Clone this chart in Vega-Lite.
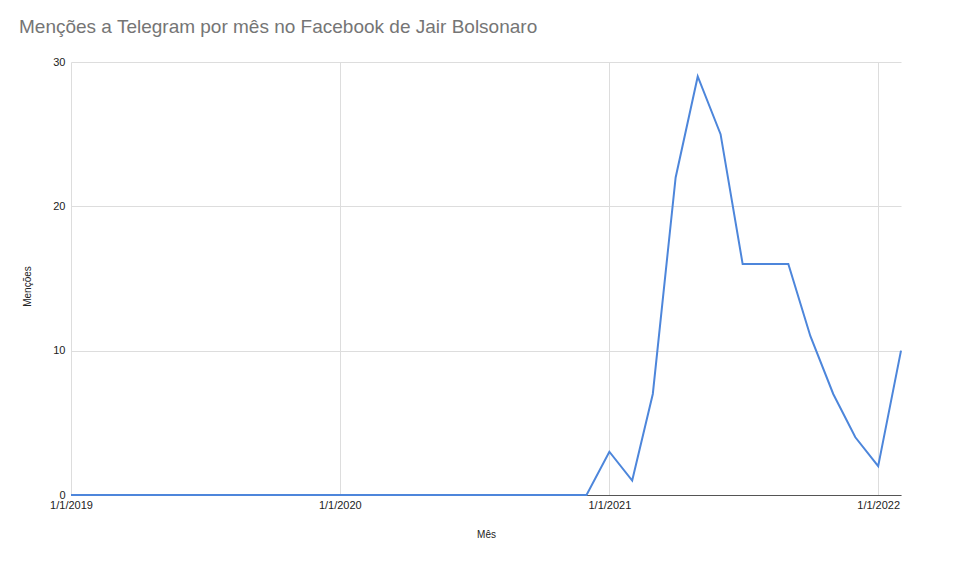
{
  "$schema": "https://vega.github.io/schema/vega-lite/v6.json",
  "width": 830,
  "height": 433,
  "autosize": "none",
  "padding": {"left": 71, "top": 62, "right": 59, "bottom": 68},
  "background": "white",
  "title": {
    "text": "Menções a Telegram por mês no Facebook de Jair Bolsonaro",
    "anchor": "start",
    "frame": "group",
    "dx": -52,
    "offset": 19,
    "font": "Liberation Sans",
    "fontSize": 19,
    "fontWeight": "normal",
    "color": "#757575"
  },
  "config": {
    "view": {"stroke": null},
    "axis": {"labelFont": "Liberation Sans", "titleFont": "Liberation Sans"}
  },
  "data": {
    "values": [
      {"mes": "2019/01/01", "mencoes": 0},
      {"mes": "2019/02/01", "mencoes": 0},
      {"mes": "2019/03/01", "mencoes": 0},
      {"mes": "2019/04/01", "mencoes": 0},
      {"mes": "2019/05/01", "mencoes": 0},
      {"mes": "2019/06/01", "mencoes": 0},
      {"mes": "2019/07/01", "mencoes": 0},
      {"mes": "2019/08/01", "mencoes": 0},
      {"mes": "2019/09/01", "mencoes": 0},
      {"mes": "2019/10/01", "mencoes": 0},
      {"mes": "2019/11/01", "mencoes": 0},
      {"mes": "2019/12/01", "mencoes": 0},
      {"mes": "2020/01/01", "mencoes": 0},
      {"mes": "2020/02/01", "mencoes": 0},
      {"mes": "2020/03/01", "mencoes": 0},
      {"mes": "2020/04/01", "mencoes": 0},
      {"mes": "2020/05/01", "mencoes": 0},
      {"mes": "2020/06/01", "mencoes": 0},
      {"mes": "2020/07/01", "mencoes": 0},
      {"mes": "2020/08/01", "mencoes": 0},
      {"mes": "2020/09/01", "mencoes": 0},
      {"mes": "2020/10/01", "mencoes": 0},
      {"mes": "2020/11/01", "mencoes": 0},
      {"mes": "2020/12/01", "mencoes": 0},
      {"mes": "2021/01/01", "mencoes": 3},
      {"mes": "2021/02/01", "mencoes": 1},
      {"mes": "2021/03/01", "mencoes": 7},
      {"mes": "2021/04/01", "mencoes": 22},
      {"mes": "2021/05/01", "mencoes": 29},
      {"mes": "2021/06/01", "mencoes": 25},
      {"mes": "2021/07/01", "mencoes": 16},
      {"mes": "2021/08/01", "mencoes": 16},
      {"mes": "2021/09/01", "mencoes": 16},
      {"mes": "2021/10/01", "mencoes": 11},
      {"mes": "2021/11/01", "mencoes": 7},
      {"mes": "2021/12/01", "mencoes": 4},
      {"mes": "2022/01/01", "mencoes": 2},
      {"mes": "2022/02/01", "mencoes": 10}
    ]
  },
  "mark": {"type": "line", "color": "#4d86db", "strokeWidth": 2, "clip": false},
  "encoding": {
    "x": {
      "field": "mes",
      "type": "temporal",
      "title": "Mês",
      "scale": {"domain": [{"year": 2019, "month": 1, "date": 1}, {"year": 2022, "month": 2, "date": 1}]},
      "axis": {
        "values": [
          {"year": 2019, "month": 1, "date": 1},
          {"year": 2020, "month": 1, "date": 1},
          {"year": 2021, "month": 1, "date": 1},
          {"year": 2022, "month": 1, "date": 1}
        ],
        "format": "%-m/%-d/%Y",
        "labelFlush": false,
        "labelOverlap": false,
        "labelFontSize": 11,
        "labelColor": "#222222",
        "labelPadding": 4,
        "labelAngle": 0,
        "ticks": false,
        "domainColor": "#555555",
        "domainWidth": 1,
        "grid": true,
        "gridColor": "#dddddd",
        "gridWidth": 1,
        "titleFontSize": 10,
        "titleFontWeight": "normal",
        "titleColor": "#222222",
        "titlePadding": 19
      }
    },
    "y": {
      "field": "mencoes",
      "type": "quantitative",
      "title": "Menções",
      "scale": {"domain": [0, 30], "nice": false},
      "axis": {
        "values": [0, 10, 20, 30],
        "domain": false,
        "ticks": false,
        "labelFontSize": 11,
        "labelColor": "#222222",
        "labelPadding": 6,
        "labelBaseline": "middle",
        "grid": true,
        "gridColor": "#dddddd",
        "gridWidth": 1,
        "titleFontSize": 10,
        "titleFontWeight": "normal",
        "titleColor": "#222222",
        "titleX": -44,
        "titleY": 224,
        "titleAngle": 270,
        "titleBaseline": "middle"
      }
    }
  }
}
